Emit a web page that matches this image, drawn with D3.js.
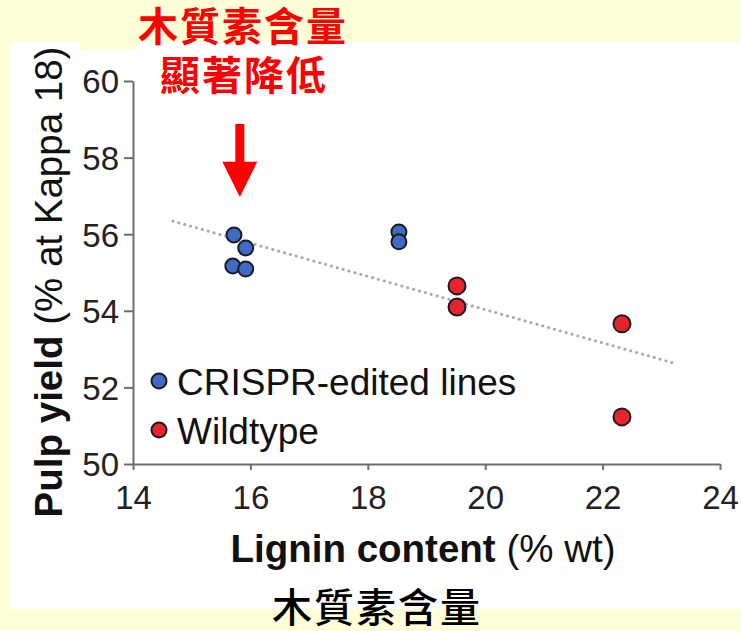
<!DOCTYPE html>
<html>
<head>
<meta charset="utf-8">
<script src="https://cdn.jsdelivr.net/npm/d3@7"></script>
<style>
  html, body { margin: 0; padding: 0; background: #FFFFD7; }
  svg { display: block; }
  text { font-family: "Liberation Sans", Arial, Helvetica, sans-serif; }
  .cjk { font-family: "Noto Sans CJK TC", "Noto Sans CJK SC", sans-serif; }
</style>
</head>
<body>
<svg id="chart" width="741" height="631"></svg>
<script>
// Pulp yield vs. lignin content
const crisprLignin = [15.72, 15.92, 15.70, 15.92, 18.53, 18.53];
const crisprYield  = [55.98, 55.64, 55.17, 55.09, 56.06, 55.80];
const wildLignin   = [19.52, 19.52, 22.33, 22.33];
const wildYield    = [54.65, 54.10, 53.66, 51.23];

// Fitted trend line endpoints
const trendLignin = [14.68, 23.27];
const trendYield  = [56.34, 52.61];

const xTicks = [14, 16, 18, 20, 22, 24];
const yTicks = [50, 52, 54, 56, 58, 60];

const seriesNames = ["CRISPR-edited lines", "Wildtype"];
const seriesColors = ["#3F6BC4", "#E8232B"];

const svg = d3.select("#chart");

// Panel background
svg.append("rect").attr("x", 0).attr("y", 0).attr("width", 741).attr("height", 631).attr("fill", "#FFFFD7");
svg.append("rect").attr("x", 9).attr("y", 42).attr("width", 732).attr("height", 567).attr("fill", "#FFFFFF");
svg.append("rect").attr("x", 79).attr("y", 42).attr("width", 58).attr("height", 8).attr("fill", "#FFFFD7");

const x = d3.scaleLinear().domain([14, 24]).range([133, 720]);
const y = d3.scaleLinear().domain([50, 60]).range([464, 81]);

const axisColor = "#6E6E6E";

// Y axis
const yAxis = svg.append("g")
  .attr("transform", `translate(${x(14)},0)`)
  .call(d3.axisLeft(y).tickValues(yTicks).tickSize(9).tickPadding(5).tickSizeOuter(0));
yAxis.select(".domain").attr("stroke", axisColor).attr("stroke-width", 2);
yAxis.selectAll(".tick line").attr("stroke", axisColor).attr("stroke-width", 2);
yAxis.selectAll(".tick text")
  .attr("font-size", 33).attr("fill", "#222")
  .attr("font-family", "'Liberation Sans', Arial, sans-serif")
  .attr("dy", "0.36em");

// X axis
const xAxis = svg.append("g")
  .attr("transform", `translate(0,${y(50)})`)
  .call(d3.axisBottom(x).tickValues(xTicks).tickSize(6).tickPadding(0).tickSizeOuter(0));
xAxis.select(".domain").attr("stroke", axisColor).attr("stroke-width", 2);
xAxis.selectAll(".tick line").attr("stroke", axisColor).attr("stroke-width", 2);
xAxis.selectAll(".tick text")
  .attr("font-size", 33).attr("fill", "#222")
  .attr("font-family", "'Liberation Sans', Arial, sans-serif")
  .attr("dy", null)
  .attr("y", 45);

// Axis titles
const xt = svg.append("text")
  .attr("x", 423).attr("y", 562)
  .attr("text-anchor", "middle")
  .attr("font-size", 38.5).attr("fill", "#111");
xt.append("tspan").attr("font-weight", "bold").text("Lignin content ");
xt.append("tspan").text("(% wt)");

const yt = svg.append("text")
  .attr("transform", "translate(62,282) rotate(-90)")
  .attr("text-anchor", "middle")
  .attr("font-size", 38.5).attr("fill", "#111");
yt.append("tspan").attr("font-weight", "bold").text("Pulp yield ");
yt.append("tspan").text("(% at Kappa 18)");

// Trend line
svg.append("path")
  .datum(d3.zip(trendLignin, trendYield))
  .attr("d", d3.line().x(d => x(d[0])).y(d => y(d[1])))
  .attr("fill", "none")
  .attr("stroke", "#A8A8A8")
  .attr("stroke-width", 3)
  .attr("stroke-linecap", "round")
  .attr("stroke-dasharray", "0.1,6");

// Points
const points = [
  ...crisprLignin.map((v, i) => ({ lx: v, py: crisprYield[i], s: 0 })),
  ...wildLignin.map((v, i) => ({ lx: v, py: wildYield[i], s: 1 }))
];
svg.append("g").selectAll("circle")
  .data(points)
  .join("circle")
  .attr("cx", d => x(d.lx))
  .attr("cy", d => y(d.py))
  .attr("r", d => d.s === 0 ? 7.5 : 8.5)
  .attr("fill", d => seriesColors[d.s])
  .attr("stroke", "#1B1B24")
  .attr("stroke-width", 2);

// Legend
const legend = svg.append("g").attr("transform", "translate(159,381)");
seriesNames.forEach((name, i) => {
  const g = legend.append("g").attr("transform", `translate(0,${i * 49})`);
  g.append("circle").attr("r", 7.5)
    .attr("fill", seriesColors[i]).attr("stroke", "#1B1B24").attr("stroke-width", 2);
  g.append("text").attr("x", 18).attr("y", 13.5)
    .attr("font-size", 37).attr("fill", "#111").text(name);
});

// Annotation: arrow pointing at the low-lignin CRISPR lines
const arrowX = 15.82;
const arrowTop = 58.88, arrowNeck = 57.89, arrowTip = 56.97;
const ax = x(arrowX);
svg.append("path")
  .attr("d", `M${ax - 4.5},${y(arrowTop)} L${ax + 4.5},${y(arrowTop)} L${ax + 4.5},${y(arrowNeck)}
              L${ax + 17.5},${y(arrowNeck)} L${ax},${y(arrowTip)} L${ax - 17.5},${y(arrowNeck)}
              L${ax - 4.5},${y(arrowNeck)} Z`)
  .attr("fill", "#FF0000");

svg.append("text").attr("class", "cjk")
  .attr("x", 243).attr("y", 41)
  .attr("text-anchor", "middle")
  .attr("font-size", 40).attr("font-weight", 700).attr("fill", "#FF0000")
  .attr("letter-spacing", 2)
  .text("木質素含量");
svg.append("text").attr("class", "cjk")
  .attr("x", 244).attr("y", 90)
  .attr("text-anchor", "middle")
  .attr("font-size", 40).attr("font-weight", 700).attr("fill", "#FF0000")
  .attr("letter-spacing", 2)
  .text("顯著降低");

svg.append("text").attr("class", "cjk")
  .attr("x", 377).attr("y", 622)
  .attr("text-anchor", "middle")
  .attr("font-size", 40).attr("font-weight", 500).attr("fill", "#000")
  .attr("letter-spacing", 2)
  .text("木質素含量");
</script>
</body>
</html>
